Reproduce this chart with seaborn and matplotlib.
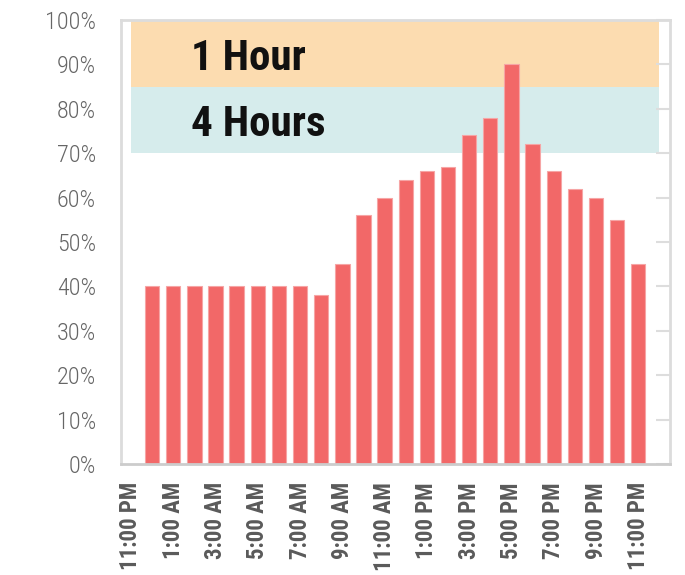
import matplotlib
matplotlib.use("Agg")
import matplotlib.pyplot as plt
import seaborn as sns
import pandas as pd

hours = ['12:00 AM', '1:00 AM', '2:00 AM', '3:00 AM', '4:00 AM', '5:00 AM',
         '6:00 AM', '7:00 AM', '8:00 AM', '9:00 AM', '10:00 AM', '11:00 AM',
         '12:00 PM', '1:00 PM', '2:00 PM', '3:00 PM', '4:00 PM', '5:00 PM',
         '6:00 PM', '7:00 PM', '8:00 PM', '9:00 PM', '10:00 PM', '11:00 PM']
share = [40, 40, 40, 40, 40, 40, 40, 40, 38, 45, 56, 60,
         64, 66, 67, 74, 78, 90, 72, 66, 62, 60, 55, 45]
tick_labels = ['11:00 PM', '1:00 AM', '3:00 AM', '5:00 AM', '7:00 AM', '9:00 AM',
               '11:00 AM', '1:00 PM', '3:00 PM', '5:00 PM', '7:00 PM', '9:00 PM',
               '11:00 PM']
bands = [('1 Hour', 85, 100, '#fcdcb0'), ('4 Hours', 70, 85, '#d6ecec')]

df = pd.DataFrame({'hour': hours, 'share': share})

sns.set_style("white")
plt.rcParams['font.family'] = ['Roboto Condensed', 'DejaVu Sans']

fig = plt.figure(figsize=(6.85, 5.75), dpi=100)
ax = fig.add_axes([121 / 685, 1 - 464 / 575, 549 / 685, 444 / 575])

# shaded response-time bands
for label, lo, hi, color in bands:
    ax.fill_between([-1, 24], lo, hi, color=color, lw=0, zorder=0)
    ax.text(1.85, (lo + hi) / 2 - 1.1, label, fontsize=31, fontweight='bold',
            va='center', ha='left', color='#111111')

sns.barplot(data=df, x='hour', y='share', color='#f26868', saturation=1,
            width=0.68, edgecolor='#f6a5a5', linewidth=0.8, ax=ax, zorder=2)

ax.set_xlim(-1.47, 24.5)
ax.set_ylim(0, 100)
ax.set_yticks(range(0, 101, 10))
ax.set_yticklabels([f'{v}%' for v in range(0, 101, 10)], color='#666666',
                   fontsize=17.5, fontweight='light')
ax.set_xticks(range(-1, 24, 2))
ax.set_xticklabels(tick_labels, rotation=90, color='#5a5a5a', fontsize=16.5,
                   fontweight='bold')
ax.tick_params(axis='y', direction='in', length=10, width=1.5, color='#dddddd',
               right=True, pad=18)
ax.tick_params(axis='x', length=0, pad=13)
ax.set_xlabel('')
ax.set_ylabel('')
for side in ['left', 'right', 'top', 'bottom']:
    ax.spines[side].set_color('#dcdcdc')
    ax.spines[side].set_linewidth(2)
ax.spines['bottom'].set_color('#cccccc')

fig.savefig('out.png', dpi=100)
